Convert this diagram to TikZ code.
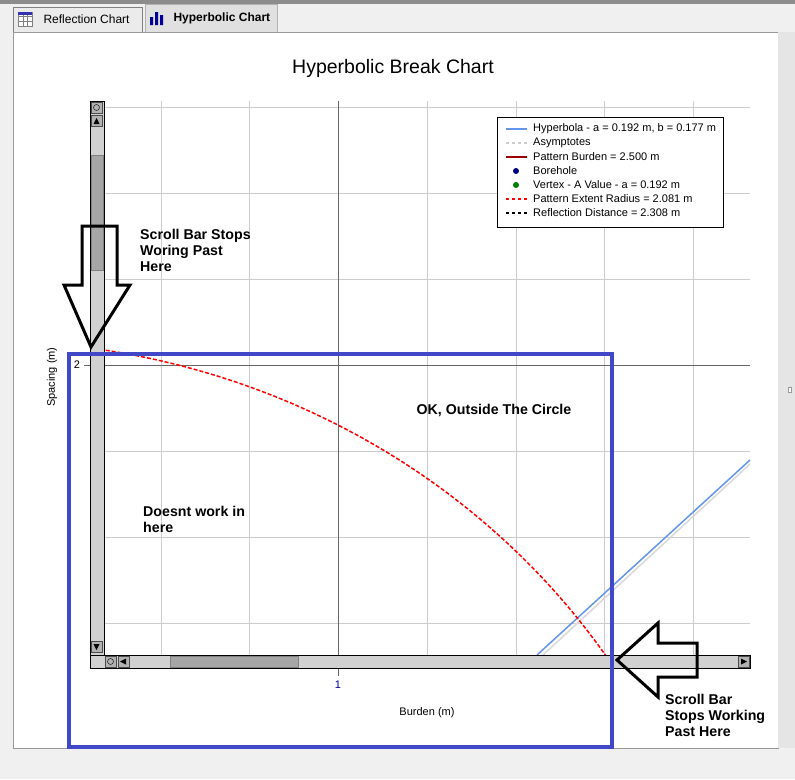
\documentclass[tikz,border=0pt]{standalone}
\usepackage{fontspec}
\setmainfont{Liberation Sans}
\begin{document}
\begin{tikzpicture}[x=1pt,y=-1pt,
  lbl/.style={font=\fontsize{14.2}{16}\selectfont\bfseries,align=left,inner sep=0},
  leg/.style={font=\fontsize{11}{13}\selectfont,anchor=west,inner sep=0},
  grid/.style={draw=black!20,line width=0.8pt},
  sb/.style={fill=black!18,draw=black,line width=0.8pt},
  btn/.style={fill=black!30,draw=black!70,line width=0.5pt},
  blk/.style={draw=black,line width=3pt,fill=none,line join=miter}]
\useasboundingbox (0,0) rectangle (795,779);
\fill[black!6] (0,0) rectangle (795,779);
\fill[black!45] (0,0) rectangle (795,4);
% tabs
\node[draw=black!50,fill=black!8,minimum width=129,minimum height=25,anchor=north west,inner sep=0] (t1) at (13,7) {};
\node[font=\fontsize{12}{14}\selectfont,anchor=west] (t1l) at (40,19) {Reflection Chart};
\node[draw=black!30,fill=black!12,minimum width=132,minimum height=28,anchor=north west,inner sep=0] (t2) at (145,4) {};
\node[font=\fontsize{12}{14}\selectfont\bfseries,anchor=west] (t2l) at (170,18) {Hyperbolic Chart};
\draw[black!50,fill=white] (18,12) rectangle (32,26); \draw[black!50] (18,16)--(32,16) (18,21)--(32,21) (23,12)--(23,26) (27,12)--(27,26);
\fill[blue!60!black!80] (18,12) rectangle (32,15);
\fill[blue!60!black] (150,17) rectangle (153,25) (155,12) rectangle (158,25) (160,15) rectangle (163,25);
% panel
\node[draw=black!40,fill=white,minimum width=765,minimum height=716,anchor=north west,inner sep=0] (panel) at (13,32) {};
\fill[black!10] (778,32) rectangle (795,748);
\node[draw=black!40,fill=white,minimum width=3,minimum height=5,inner sep=0] (mk) at (790,390) {};
\node[font=\fontsize{19.5}{22}\selectfont] (title) at (393,68) {Hyperbolic Break Chart};
% grid
\foreach \x in {161,249,427,516,604,693} \draw[grid] (\x,101) -- (\x,655);
\foreach \y in {107,193,279,451,537,623} \draw[grid] (90,\y) -- (750,\y);
\draw[black!60,line width=0.8pt] (338,101) -- (338,676);
\draw[black!60,line width=0.8pt] (84,365) -- (750,365);
% hyperbola and asymptote
\draw[black!15,line width=1.5pt] (543,655) -- (750,464);
\draw[line width=1.5pt,color={rgb,255:red,100;green,149;blue,237}] (537,655) -- (750,460);
% circle
\begin{scope}
\clip (90,101) rectangle (750,657);
\draw[red,line width=1.5pt,dash pattern=on 4pt off 2pt] plot[domain=29:81,samples=80] ({-14+747*cos(\x)},{1053-712*sin(\x)});
\end{scope}
% scrollbars
\node[sb,minimum width=14,minimum height=554,anchor=north west,inner sep=0] (vsb) at (90,101) {};
\node[sb,minimum width=660,minimum height=13,anchor=north west,inner sep=0] (hsb) at (90,655) {};
\node[btn,minimum width=11,minimum height=11,anchor=north west] (vb1) at (91,102) {};
\draw (96.5,107.5) circle (3);
\node[btn,minimum width=11,minimum height=11,anchor=north west] (vb2) at (91,115) {};
\fill (93.5,124) -- (99.5,124) -- (96.5,118) -- cycle;
\node[fill=black!35,draw=black!50,minimum width=12,minimum height=115,anchor=north west,inner sep=0] (vth) at (91,155) {};
\node[btn,minimum width=11,minimum height=11,anchor=north west] (vb3) at (91,641) {};
\fill (93.5,644) -- (99.5,644) -- (96.5,650) -- cycle;
\node[btn,minimum width=11,minimum height=11,anchor=north west] (hb1) at (105,656) {};
\draw (110.5,661.5) circle (3);
\node[btn,minimum width=11,minimum height=11,anchor=north west] (hb2) at (118,656) {};
\fill (126,658.5) -- (126,664.5) -- (120,661.5) -- cycle;
\node[fill=black!35,draw=black!50,minimum width=128,minimum height=11,anchor=north west,inner sep=0] (hth) at (170,656) {};
\node[btn,minimum width=11,minimum height=11,anchor=north west] (hb3) at (738,656) {};
\fill (741,658.5) -- (741,664.5) -- (747,661.5) -- cycle;
% axis labels
\node[font=\fontsize{11}{13}\selectfont,text=blue!60!black] (x1) at (338,685) {1};
\node[font=\fontsize{11}{13}\selectfont] (y2) at (77,365) {2};
\node[font=\fontsize{11}{13}\selectfont] (xl) at (427,713) {Burden (m)};
\node[font=\fontsize{11}{13}\selectfont,rotate=90] (yl) at (52,377) {Spacing (m)};
% legend
\node[draw=black,fill=white,line width=0.8pt,minimum width=226,minimum height=110,anchor=north west,inner sep=0] (leg) at (497,117) {};
\foreach \y/\t in {129/{Hyperbola - a  = 0.192 m, b = 0.177 m},143/Asymptotes,157/{Pattern Burden = 2.500 m},171/Borehole,185/{Vertex - A Value - a = 0.192 m},199/{Pattern Extent Radius = 2.081 m},213/{Reflection Distance = 2.308 m}}
  \node[leg] at (533,\y) {\t};
\draw[color={rgb,255:red,100;green,149;blue,237},line width=1.5pt] (506,129)--(527,129);
\draw[black!20,dashed,line width=1.5pt] (506,143)--(527,143);
\draw[red!60!black,line width=1.5pt] (506,157)--(527,157);
\fill[blue!50!black] (516,171) circle (3);
\fill[green!50!black] (516,185) circle (3);
\draw[red,dashed,line width=1.5pt] (506,199)--(527,199);
\draw[black,dashed,line width=1.5pt] (506,213)--(527,213);
% blue box
\node[draw={rgb,255:red,64;green,72;blue,200},line width=4pt,minimum width=543,minimum height=393,anchor=north west,inner sep=0] (box) at (67,352) {};
% block arrows
\draw[blk] (82,226) -- (117,226) -- (117,285) -- (130,285) -- (91,347) -- (64,285) -- (82,285) -- cycle;
\draw[blk] (697,643) -- (697,677) -- (658,677) -- (658,697) -- (617,660) -- (658,623) -- (658,643) -- cycle;
% annotations
\node[lbl,anchor=north west] (n1) at (140,229) {Scroll Bar Stops\\Woring Past\\Here};
\node[lbl] (n2) at (494,410) {OK, Outside The Circle};
\node[lbl,anchor=north west] (n3) at (143,506) {Doesnt work in\\here};
\node[lbl,anchor=north west] (n4) at (665,694) {Scroll Bar\\Stops Working\\Past Here};
\end{tikzpicture}
\end{document}
